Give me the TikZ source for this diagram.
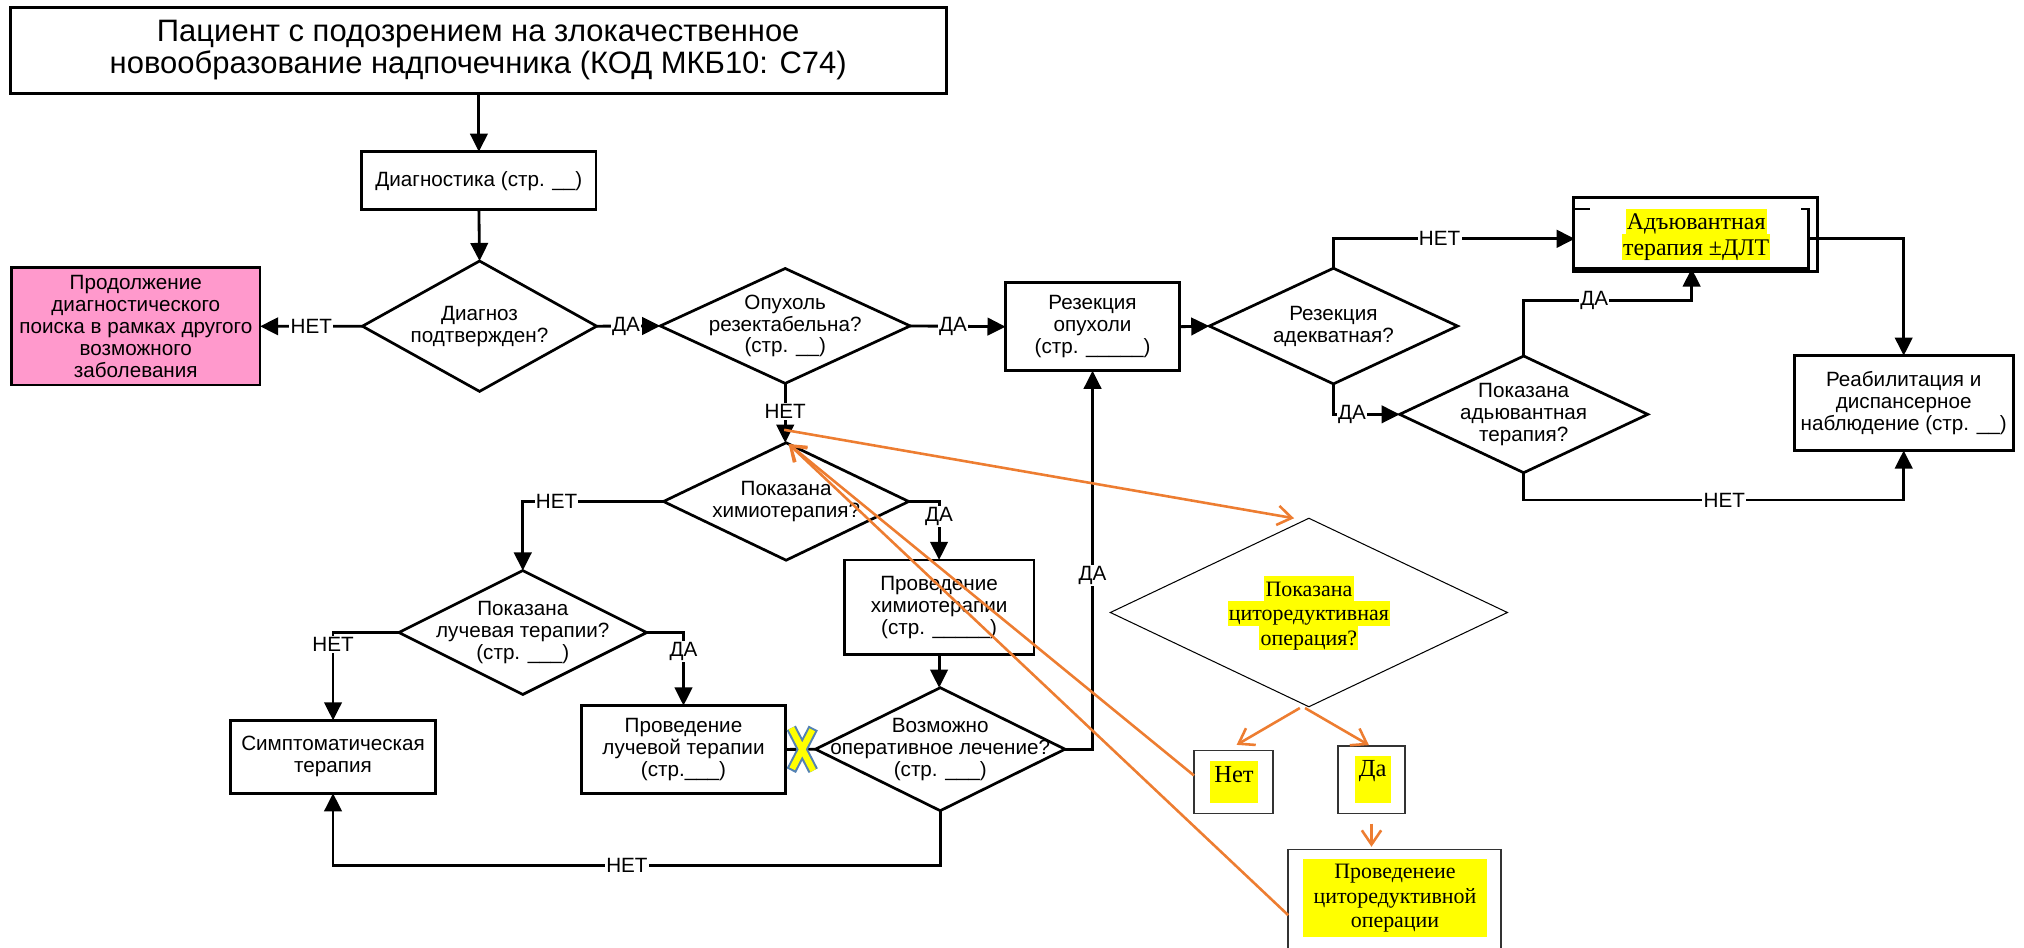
\documentclass[tikz,border=0pt]{standalone}
\usepackage{fontspec}
\setmainfont{Liberation Sans}
\newfontfamily\tnr{Liberation Serif}
\usetikzlibrary{arrows.meta,shapes.geometric,calc}
\definecolor{pinkfill}{RGB}{255,153,204}
\definecolor{orng}{RGB}{237,125,49}
\definecolor{hly}{RGB}{255,255,0}
\definecolor{xblue}{RGB}{84,130,180}
\newcommand\hlstrut{\rule[-0.18\baselineskip]{0pt}{\baselineskip}}
\newcommand\hlt[1]{{\setlength{\fboxsep}{0pt}\colorbox{hly}{\hlstrut\hspace{1pt}#1\hspace{1pt}}}}
\tikzset{
 box/.style={draw, line width=2.1pt, rectangle, inner sep=0pt, outer sep=0pt, align=center, font=\fontsize{16}{17}\selectfont},
 dia/.style={draw, line width=2.1pt, diamond, inner sep=0pt, outer sep=0pt},
 txt/.style={align=center, inner sep=0pt, font=\fontsize{16}{17}\selectfont},
 lbl/.style={fill=white, inner sep=1pt, font=\fontsize{16}{17}\selectfont},
 conn/.style={line width=2.2pt, -{Triangle[length=14pt,width=13.5pt]}},
 plainline/.style={line width=2.2pt},
 orarr/.style={draw=orng, line width=2pt, -{Straight Barb[length=11pt,width=15pt]}},
 hlbox/.style={draw=black!80, line width=1.2pt, rectangle, inner sep=0pt, outer sep=0pt},
 serif17/.style={align=center, inner sep=0pt, font=\tnr\fontsize{17}{19}\selectfont},
}
\begin{document}
\setlength{\lineskiplimit}{-10pt}
\begin{tikzpicture}[x=1pt,y=-1pt]
\useasboundingbox (0,0) rectangle (1568,733.7);

% ---- black flowchart ----
\node[box, minimum width=725pt, minimum height=66.6pt, font=\fontsize{24}{24.6}\selectfont] (top) at (370.5,39)
  {Пациент с подозрением на злокачественное\\новообразование надпочечника (КОД МКБ10: С74)};
\node[box, minimum width=181.6pt, minimum height=45pt] (diag) at (371,140) {Диагностика (стр. \_\_)};
\node[dia, minimum width=181.5pt, minimum height=101pt] (d1) at (371.5,252.7) {};
\node[txt] (d1t) at (d1) {Диагноз\\подтвержден?};
\node[box, fill=pinkfill, minimum width=192.6pt, minimum height=91pt] (pink) at (105.2,252.8)
  {Продолжение\\диагностического\\поиска в рамках другого\\возможного\\заболевания};
\node[dia, minimum width=193.6pt, minimum height=89pt] (d2) at (608.3,252.5) {};
\node[txt] (d2t) at (d2) {Опухоль\\резектабельна?\\(стр. \_\_)};
\node[box, minimum width=134.8pt, minimum height=68.2pt] (res) at (846.4,253.1) {Резекция\\опухоли\\(стр. \_\_\_\_\_)};
\node[dia, minimum width=192.3pt, minimum height=89.6pt] (d4) at (1033,252.6) {};
\node[txt] (d4t) at (d4) {Резекция\\адекватная?};
\node[dia, minimum width=192.2pt, minimum height=90.4pt] (d5) at (1180.4,321) {};
\node[txt] (d5t) at (d5) {Показана\\адьювантная\\терапия?};
\node[draw, line width=2.1pt, rectangle, inner sep=0pt, outer sep=0pt, minimum width=189pt, minimum height=57.6pt] (adjo) at (1313.5,181.7) {};
\node[rectangle, inner sep=0pt, outer sep=0pt, minimum width=181pt, minimum height=46pt] (adj) at (1310.5,185) {};
\draw[line width=2.1pt] (adj.south west) -- (adj.south east) -- (adj.north east) -- ++(-6,0);
\draw[line width=1.5pt] (adj.north west) -- ++(12,0);
\node[align=center, inner sep=0pt, font=\tnr\fontsize{18.5}{19.7}\selectfont] (adjt) at (1314,181.7)
  {\hlt{Адъювантная}\\\hlt{терапия ±ДЛТ}};
\node[box, minimum width=169.6pt, minimum height=73.5pt] (reab) at (1474.8,312.25) {Реабилитация и\\диспансерное\\наблюдение (стр. \_\_)};
\node[dia, minimum width=190pt, minimum height=91pt] (d3) at (609,388.5) {};
\node[txt] (d3t) at (d3) {Показана\\химиотерапия?};
\node[dia, minimum width=192pt, minimum height=96pt] (d6) at (405,490) {};
\node[txt] (d6t) at (d6) {Показана\\лучевая терапии?\\(стр. \_\_\_)};
\node[box, minimum width=147pt, minimum height=73.5pt] (chemo) at (727.5,470.5) {Проведение\\химиотерапии\\(стр. \_\_\_\_\_)};
\node[dia, minimum width=193.3pt, minimum height=95.3pt] (d7) at (728.4,580.4) {};
\node[txt] (d7t) at (d7) {Возможно\\оперативное лечение?\\(стр. \_\_\_)};
\node[box, minimum width=158pt, minimum height=68pt] (luch) at (529.5,580.6) {Проведение\\лучевой терапии\\(стр.\_\_\_)};
\node[box, minimum width=158.8pt, minimum height=56.5pt] (symp) at (258,586.3) {Симптоматическая\\терапия};

% connectors
\draw[conn] (diag.north |- top.south) -- (diag.north);
\draw[conn] (diag.south) -- (d1.north);
\draw[conn] (d1.west) -- node[lbl, pos=0.5] {НЕТ} (pink.east);
\draw[conn] (d1.east) -- node[lbl, pos=0.46] {ДА} (d2.west);
\draw[conn] (d2.east) -- node[lbl, pos=0.45] {ДА} (res.west);
\draw[conn] (d2.south) -- node[lbl, pos=0.47] {НЕТ} (d2.south |- d3.north);
\draw[conn] (res.east) -- (d4.west);
\draw[conn] (d4.north) |- node[lbl, pos=0.72] {НЕТ} (adj.west);
\draw[conn] (d4.south) |- node[lbl, pos=0.64] {ДА} (d5.west);
\draw[conn] (d5.north) -- (d5.north |- 0,233) -| node[lbl, pos=0.21] {ДА} (adj.south);
\draw[conn] (adj.east) -| (reab.north);
\draw[conn] (d5.south) -- (d5.south |- 0,387.4) -| node[lbl, pos=0.264] {НЕТ} (reab.south);
\draw[conn] (d3.west) -| node[lbl, pos=0.38] {НЕТ} (d6.north);
\draw[conn] (d3.east) -| node[lbl, pos=0.63] {ДА} (chemo.north);
\draw[conn] (chemo.south) -- (chemo.south |- d7.north);
\draw[conn] (d6.west) -| node[lbl, pos=0.57] {НЕТ} (symp.north);
\draw[conn] (d6.east) -| node[lbl, pos=0.63] {ДА} (luch.north);
\draw[conn] (d7.east) -| node[lbl, pos=0.73] {ДА} (res.south);
\draw[conn] (d7.south) -- (d7.south |- 0,670.6) -| node[lbl, pos=0.258] {НЕТ} (symp.south);
\draw[plainline] (d7.west) -- (luch.east);

% X marker
\draw[xblue, line width=8pt] (613,564) -- (630,597) (630,564) -- (613,597);
\draw[hly, line width=4.8pt, shorten <=1.6pt, shorten >=1.6pt] (613,564) -- (630,597) (630,564) -- (613,597);

% ---- added (yellow) part ----
\node[dia, line width=0.8pt, minimum width=307.6pt, minimum height=146pt] (d8) at (1014,474.5) {};
\node[serif17] (d8t) at (1014,475) {\hlt{Показана}\\\hlt{циторедуктивная}\\\hlt{операция?}};

\node[hlbox, minimum width=61pt, minimum height=48.5pt] (netbox) at (955.5,605.8) {};
\fill[hly] (937.5,589.6) rectangle (974.6,622);
\node[inner sep=0pt, font=\tnr\fontsize{19}{21}\selectfont] (nett) at (956,600.4) {Нет};

\node[hlbox, minimum width=52pt, minimum height=52.3pt] (dabox) at (1062.5,603.9) {};
\fill[hly] (1049.6,585.7) rectangle (1077.5,622);
\node[inner sep=0pt, font=\tnr\fontsize{19}{21}\selectfont] (dat) at (1063.5,597) {Да};

\node[hlbox, minimum width=165pt, minimum height=102pt] (provbox) at (1080.5,709) {};
\fill[hly] (1009.7,665.6) rectangle (1151.7,726);
\node[serif17] (provt) at (1080.7,696) {Проведенеие\\циторедуктивной\\операции};

% orange connectors
\draw[orarr] ($(netbox.west)+(0,-5)$) -- ($(d3.north)+(2,1)$);
\draw[orarr] (provbox.west) -- ($(d3.north)+(2,1)$);
\draw[orarr] ($(d3.north)+(-1.5,-10)$) -- ($(d8.north)+(-11.5,0)$);
\draw[orarr] ($(d8.south)+(-7,1)$) -- ($(netbox.north)+(2.5,-4.5)$);
\draw[orarr] ($(d8.south)+(-3,1)$) -- ($(dabox.north)+(-2,-0.5)$);
\draw[orarr] ($(dabox.south)+(0,8)$) -- ($(dabox.south |- provbox.north)+(0,-2)$);
\end{tikzpicture}
\end{document}
